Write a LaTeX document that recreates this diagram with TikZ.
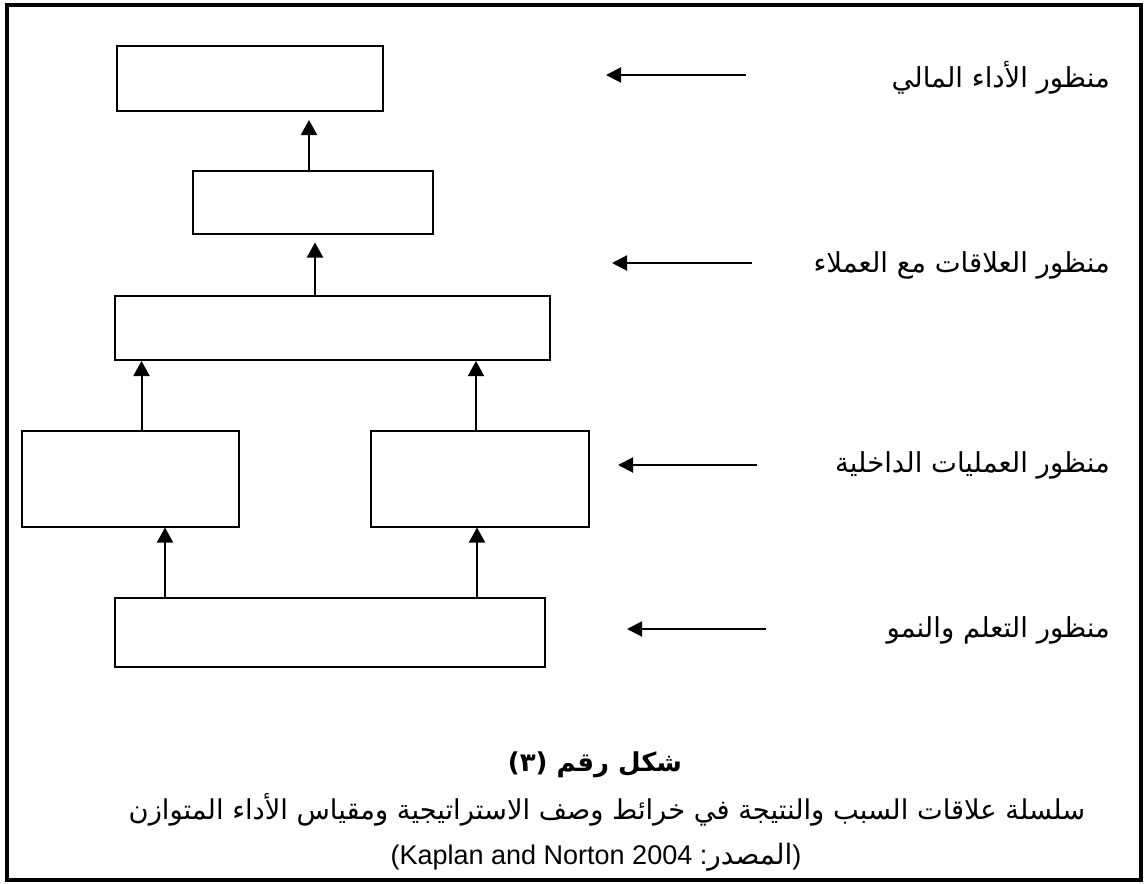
\documentclass[tikz,border=0pt]{standalone}
\usepackage{fontspec}
\setmainfont{Liberation Sans}
\newfontfamily\arabicfont[Script=Arabic]{DejaVu Sans}
\TeXXeTstate=1
\usetikzlibrary{arrows.meta}
\tikzset{
  box/.style={draw, line width=2pt, inner sep=0pt, rectangle},
  arr/.style={line width=2pt, -{Triangle[length=15pt,width=16pt]}},
  gaparr/.style={arr, shorten >=8pt},
  sidearr/.style={line width=2pt, -{Triangle[length=15pt,width=15pt]}},
  lbl/.style={anchor=east, inner sep=0pt, font=\arabicfont\fontsize{27.5}{32}\selectfont},
  captxt/.style={inner sep=0pt, font=\arabicfont\fontsize{27.3}{32}\selectfont}
}
\begin{document}
\begin{tikzpicture}[x=1pt,y=-1pt]
\useasboundingbox (0,0) rectangle (1144,884);
\draw[line width=3.2pt] (7,5) rectangle (1141,880);
% boxes
\node[box, minimum width=266pt, minimum height=65pt] (b1) at (250,78.5) {};
\node[box, minimum width=240pt, minimum height=63pt] (b2) at (313,202) {};
\node[box, minimum width=435pt, minimum height=64pt] (b3) at (332.5,328) {};
\node[box, minimum width=217pt, minimum height=96pt] (b4l) at (130.5,478.5) {};
\node[box, minimum width=218pt, minimum height=96pt] (b4r) at (480,478.5) {};
\node[box, minimum width=430pt, minimum height=69pt] (b5) at (330,632.5) {};
% vertical arrows
\draw[gaparr] ([xshift=-4pt]b2.north) -- ([xshift=-4pt]b2.north |- b1.south);
\draw[gaparr] ([xshift=-17.5pt]b3.north) -- ([xshift=-17.5pt]b3.north |- b2.south);
\draw[arr] ([xshift=11pt]b4l.north) -- ([xshift=11pt]b4l.north |- b3.south);
\draw[arr] ([xshift=-4pt]b4r.north) -- ([xshift=-4pt]b4r.north |- b3.south);
\draw[arr] ([xshift=-165pt]b5.north) -- ([xshift=-165pt]b5.north |- b4l.south);
\draw[arr] ([xshift=147pt]b5.north) -- ([xshift=147pt]b5.north |- b4r.south);
% labels
\node[lbl] (l1) at (1110,78) {\beginR منظور الأداء المالي\endR};
\node[lbl] (l2) at (1110,265) {\beginR منظور العلاقات مع العملاء\endR};
\node[lbl] (l3) at (1110,465) {\beginR منظور العمليات الداخلية\endR};
\node[lbl] (l4) at (1110,630) {\beginR منظور التعلم والنمو\endR};
\coordinate (t1) at (746,75); \coordinate (h1) at (606,75);
\coordinate (t2) at (752,263); \coordinate (h2) at (612,263);
\coordinate (t3) at (757,465); \coordinate (h3) at (618,465);
\coordinate (t4) at (766,629); \coordinate (h4) at (627,629);
\draw[sidearr] (t1) -- (h1);
\draw[sidearr] (t2) -- (h2);
\draw[sidearr] (t3) -- (h3);
\draw[sidearr] (t4) -- (h4);
% caption
\node[captxt, font=\arabicfont\bfseries\fontsize{26}{30}\selectfont] (c1) at (595,765) {\beginR شكل رقم (٣)\endR};
\node[captxt] (c2) at (607,810) {\beginR سلسلة علاقات السبب والنتيجة في خرائط وصف الاستراتيجية ومقياس الأداء المتوازن\endR};
\node[inner sep=0pt, font=\fontsize{27}{32}\selectfont] (c3) at (596,857) {(Kaplan and Norton 2004 :{\arabicfont\fontsize{28}{32}\selectfont\beginR المصدر\endR})};
\end{tikzpicture}
\end{document}
